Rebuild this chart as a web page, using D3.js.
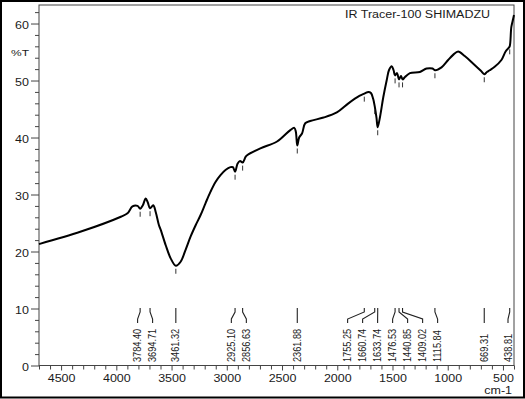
<!DOCTYPE html>
<html>
<head>
<meta charset="utf-8">
<script src="https://cdn.jsdelivr.net/npm/d3@7"></script>
<style>
  html, body { margin: 0; padding: 0; background: #fff; }
  svg text { font-family: Arial, "Liberation Sans", sans-serif; fill: #1a1a1a; }
</style>
</head>
<body>
<div id="chart"></div>
<script>
"use strict";

// spectrum (wavenumber cm-1, %T)
var wavenumber = [4700, 4320, 3959, 3899, 3854, 3808, 3784, 3760, 3734, 3715, 3695, 3666, 3643, 3614,
  3598, 3553, 3508, 3461, 3418, 3373, 3328, 3282, 3237, 3192, 3147, 3102, 3057, 3012, 2967, 2945,
  2925, 2903, 2880, 2857, 2830, 2816, 2696, 2545, 2425, 2389, 2375, 2362, 2345, 2319, 2290, 2245,
  2124, 2004, 1899, 1800, 1755, 1718, 1695, 1675, 1661, 1645, 1634, 1613, 1583, 1552, 1532, 1507,
  1490, 1477, 1459, 1441, 1423, 1409, 1387, 1342, 1252, 1191, 1137, 1116, 1056, 996, 951, 906,
  846, 771, 700, 669, 645, 620, 575, 514, 476, 450, 439, 424, 408, 400];
var transmittance = [21.3, 23.5, 26.1, 26.7, 27.9, 28.0, 27.5, 28.1, 29.3, 28.6, 27.6, 28.1, 26.9, 24.6,
  23.8, 21.1, 18.8, 17.5, 18.2, 20.3, 22.6, 24.6, 26.4, 28.5, 30.5, 32.2, 33.4, 34.3, 34.8, 34.8,
  34.0, 35.4, 35.9, 35.6, 36.6, 36.9, 38.1, 39.3, 41.3, 41.7, 41.0, 38.6, 40.0, 40.7, 42.5, 42.9,
  43.5, 44.4, 46.0, 47.3, 47.7, 48.0, 47.8, 46.8, 45.5, 43.5, 41.8, 43.6, 47.1, 50.1, 51.8, 52.5,
  51.8, 50.9, 51.3, 50.2, 50.8, 50.2, 50.6, 51.3, 51.5, 52.1, 52.1, 51.8, 52.3, 53.6, 54.5, 55.1,
  54.3, 53.0, 51.7, 51.1, 51.5, 51.8, 52.4, 53.6, 55.1, 55.7, 56.0, 59.4, 60.8, 61.5];

// picked peaks
var peakWn = [3784.40, 3694.71, 3461.32, 2925.10, 2856.63, 2361.88, 1755.25, 1660.74, 1633.74,
  1476.53, 1440.85, 1409.02, 1115.84, 669.31, 438.81];
var peakT = [27.5, 27.6, 17.5, 34.0, 35.6, 38.6, 47.7, 45.5, 41.8, 50.9, 50.2, 50.2, 51.8, 51.1, 56.0];

var xMajor = [4500, 4000, 3500, 3000, 2500, 2000, 1500, 1000, 500];
var yMajor = [0, 10, 20, 30, 40, 50, 60];

var W = 525, H = 399;
var pLeft = 39, pRight = 514, pTop = 5, pBottom = 365.5;

var svg = d3.select("#chart")
            .append("svg")
            .attr("width", W)
            .attr("height", H);

var x = d3.scaleLinear().domain([4700, 400]).range([pLeft, pRight]);
var y = d3.scaleLinear().domain([0, 63.25]).range([pBottom, pTop]);

// outer frame
svg.append("rect")
   .attr("x", 1).attr("y", 1)
   .attr("width", W - 2).attr("height", H - 2.5)
   .attr("fill", "none")
   .attr("stroke", "#000")
   .attr("stroke-width", 2);

// plot box
svg.append("rect")
   .attr("x", pLeft).attr("y", pTop)
   .attr("width", pRight - pLeft).attr("height", pBottom - pTop)
   .attr("fill", "none")
   .attr("stroke", "#444")
   .attr("stroke-width", 1);

// x axis: minor every 100, labels every 500
var xMinor = d3.range(4700, 399, -100).filter(function(d) { return xMajor.indexOf(d) < 0; });
svg.append("g")
   .attr("transform", "translate(0," + pBottom + ")")
   .call(d3.axisBottom(x).tickValues(xMinor).tickSize(4).tickFormat(""))
   .call(function(g) { g.select(".domain").remove(); g.selectAll("line").attr("stroke", "#444"); });

var xAxis = svg.append("g")
   .attr("transform", "translate(0," + pBottom + ")")
   .call(d3.axisBottom(x).tickValues(xMajor).tickSize(5).tickFormat(d3.format("d")));
xAxis.select(".domain").remove();
xAxis.selectAll("line").attr("stroke", "#444");
xAxis.selectAll("text")
     .attr("y", 11.5)
     .attr("transform", "scale(1,0.8)")
     .style("font-size", "12.5px")
     .attr("fill", "#1a1a1a");

// y axis: minor every 2
var yMinor = d3.range(2, 63, 2).filter(function(d) { return d % 10 !== 0; });
svg.append("g")
   .attr("transform", "translate(" + pLeft + ",0)")
   .call(d3.axisLeft(y).tickValues(yMinor).tickSize(4).tickFormat(""))
   .call(function(g) { g.select(".domain").remove(); g.selectAll("line").attr("stroke", "#444"); });

var yAxis = svg.append("g")
   .attr("transform", "translate(" + pLeft + ",0)")
   .call(d3.axisLeft(y).tickValues(yMajor).tickSize(8).tickPadding(2));
yAxis.select(".domain").remove();
yAxis.selectAll("line").attr("stroke", "#444");
yAxis.selectAll("text")
     .attr("transform", "scale(1,0.8)")
     .attr("dy", "0.45em")
     .style("font-size", "12.5px")
     .attr("fill", "#1a1a1a");

// axis titles
svg.append("text")
   .attr("transform", "translate(11,56) scale(1,0.82)")
   .style("font-size", "12px")
   .text("%T");

svg.append("text")
   .attr("transform", "translate(512,394) scale(1,0.82)")
   .attr("text-anchor", "end")
   .style("font-size", "12.5px")
   .text("cm-1");

svg.append("text")
   .attr("transform", "translate(345,18.3) scale(1,0.82)")
   .style("font-size", "12.5px")
   .text("IR Tracer-100 SHIMADZU");

// spectrum
var pts = wavenumber.map(function(w, i) { return [w, transmittance[i]]; });
var line = d3.line()
             .x(function(d) { return x(d[0]); })
             .y(function(d) { return y(d[1]); })
             .curve(d3.curveCatmullRom.alpha(0.5));

svg.append("path")
   .datum(pts)
   .attr("d", line)
   .attr("fill", "none")
   .attr("stroke", "#000")
   .attr("stroke-width", 2)
   .attr("stroke-linejoin", "round");

// peak marks under the curve
svg.selectAll(".pmark")
   .data(peakWn)
   .enter()
   .append("line")
   .attr("x1", function(d) { return x(d); })
   .attr("x2", function(d) { return x(d); })
   .attr("y1", function(d, i) { return y(peakT[i]) + 3; })
   .attr("y2", function(d, i) { return y(peakT[i]) + 8; })
   .attr("stroke", "#333")
   .attr("stroke-width", 1);

// spread peak labels so they don't overlap
var gap = 15;
var clusters = peakWn.map(function(d) { return { xs: [x(d)] }; });
clusters.sort(function(a, b) { return a.xs[0] - b.xs[0]; });
function place(c) {
  var m = d3.mean(c.xs);
  c.start = m - (c.xs.length - 1) * gap / 2;
  c.end = c.start + (c.xs.length - 1) * gap;
}
clusters.forEach(place);
var merged = true;
while (merged) {
  merged = false;
  for (var i = 0; i < clusters.length - 1; i++) {
    if (clusters[i].end + gap > clusters[i + 1].start) {
      clusters[i].xs = clusters[i].xs.concat(clusters[i + 1].xs);
      place(clusters[i]);
      clusters.splice(i + 1, 1);
      merged = true;
      break;
    }
  }
}
var labelX = {};
clusters.forEach(function(c) {
  if (c.end > pRight - 6) { c.start -= c.end - (pRight - 6); }
  c.xs.forEach(function(px, j) { labelX[px] = c.start + j * gap; });
});

var labels = svg.selectAll(".plabel")
   .data(peakWn)
   .enter()
   .append("g");

labels.append("path")
   .attr("d", function(d) {
     var px = x(d), lx = labelX[px];
     return "M" + px + ",308V312L" + lx + ",319V323";
   })
   .attr("fill", "none")
   .attr("stroke", "#222")
   .attr("stroke-width", 1.1);

labels.append("text")
   .attr("transform", function(d) {
     return "translate(" + (labelX[x(d)] + 3.6) + ",362) rotate(-90) scale(0.92,1)";
   })
   .style("font-size", "10px")
   .attr("fill", "#111")
   .text(function(d) { return d.toFixed(2); });
</script>
</body>
</html>
